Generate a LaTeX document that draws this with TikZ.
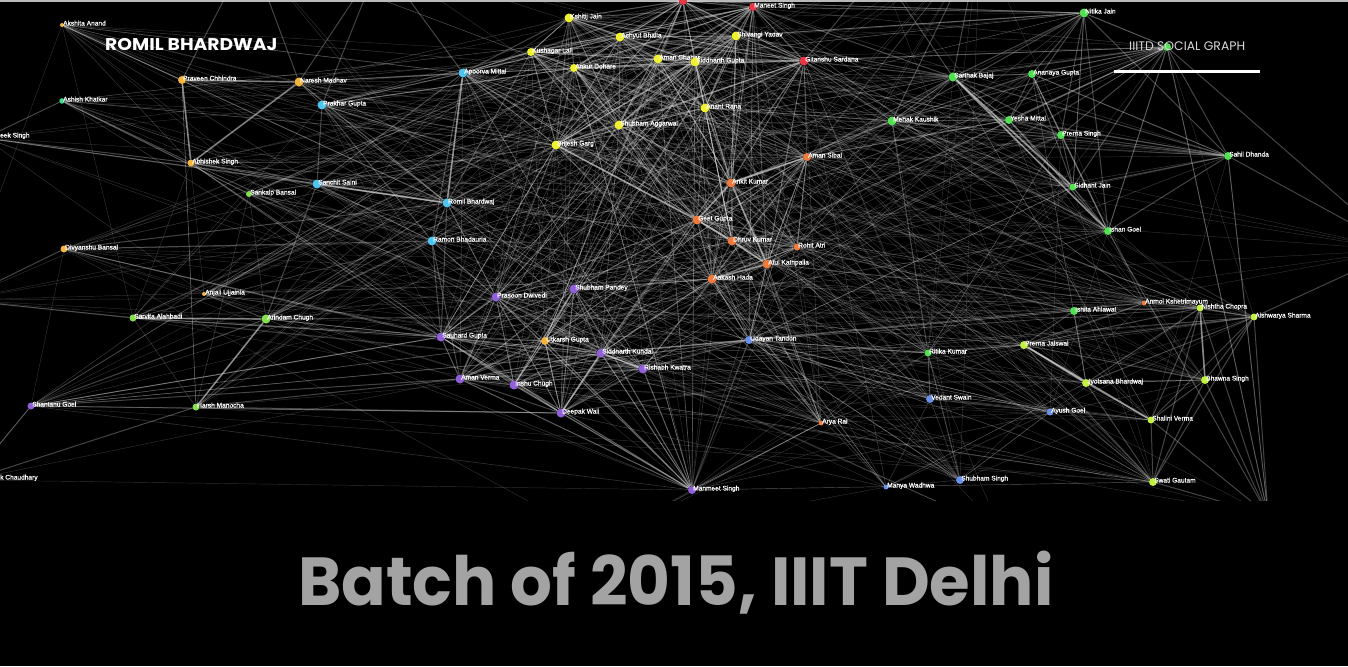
\documentclass[tikz,border=0pt]{standalone}
\usepackage{fontspec}
\setmainfont{Liberation Sans}
\newfontfamily\lblfont{Liberation Sans}[FakeBold=0.6]
\newfontfamily\popfont{Poppins}
\usetikzlibrary{calc}
\pgfdeclarelayer{bg}\pgfdeclarelayer{edges}
\pgfsetlayers{bg,edges,main}
\definecolor{cgold}{HTML}{F4B43C}
\definecolor{ccyan}{HTML}{4EC4EE}
\definecolor{cteal}{HTML}{40D890}
\definecolor{clime}{HTML}{84E04C}
\definecolor{cpurp}{HTML}{9060D8}
\definecolor{cyell}{HTML}{EEF030}
\definecolor{cred}{HTML}{E83848}
\definecolor{corng}{HTML}{F07A3C}
\definecolor{cgreen}{HTML}{52E052}
\definecolor{clime2}{HTML}{C0F040}
\definecolor{cblue}{HTML}{6A90E8}
\definecolor{ctext}{HTML}{A3A3A3}
\definecolor{cedge}{HTML}{D8D8D8}
\tikzset{
 dot/.style={circle, inner sep=0pt, draw=none},
 lbl/.style={anchor=base west, inner sep=0pt, text=white, font=\lblfont\fontsize{6.6}{7}\selectfont},
 faint/.style={draw=cedge, draw opacity=0.22, line width=0.45pt},
 faintb/.style={draw=cedge, draw opacity=0.22, line width=0.65pt},
 mid/.style={draw=cedge, draw opacity=0.32, line width=1pt},
 strong/.style={draw=cedge, draw opacity=0.5, line width=1.7pt},
}
% id, index, x, y, diameter, colour, label
\newcommand\gn[7]{%
 \node[dot, minimum size=#5pt, fill=#6, alias=n#2] (#1) at (#3,#4) {};
 \node[lbl] (#1-l) at (#3+1,#4+0.5) {#7};}
\newcommand\gnx[6]{%
 \node[dot, minimum size=#5pt, fill=#6, alias=n#2] (#1) at (#3,#4) {};}
\newcommand\mkclique[2]{%
 \foreach \a [count=\i] in {#2}{\foreach \b [count=\j] in {#2}{\ifnum\j>\i\relax\draw[#1] (\a) -- (\b);\fi}}}
\begin{document}
\begin{tikzpicture}[x=1pt,y=-1pt]
\useasboundingbox (0,0) rectangle (1348,666);
\begin{pgfonlayer}{bg}
\fill[black] (0,0) rectangle (1348,666);
\fill[gray!55] (0,0) rectangle (1348,1.6);
\end{pgfonlayer}
% ---- nodes
\gn{akshita}{1}{62}{25}{4}{cgold}{Akshita Anand}
\gn{praveen}{2}{182}{80}{8}{cgold}{Praveen Chhindra}
\gn{naresh}{3}{299}{82}{9}{cgold}{Naresh Madhav}
\gn{ashish}{4}{62}{101}{5.5}{cteal}{Ashish Khatkar}
\gn{prakhar}{5}{322}{105}{9}{ccyan}{Prakhar Gupta}
\gn{abhishek}{6}{191}{163}{7}{cgold}{Abhishek Singh}
\gn{sankalp}{7}{249}{194}{6}{clime}{Sankalp Bansal}
\gn{sanchit}{8}{317}{184}{9}{ccyan}{Sanchit Saini}
\gn{romil}{9}{447}{203}{9}{ccyan}{Romil Bhardwaj}
\gn{ramon}{10}{432}{241}{9}{ccyan}{Ramon Bhadauria}
\gn{divyanshu}{11}{64}{249}{7}{cgold}{Divyanshu Bansal}
\gn{anjali}{12}{204}{294}{4}{cgold}{Anjali Ujjainia}
\gn{sarvita}{13}{133}{318}{7}{clime}{Sarvita Alahbadi}
\gn{arindam}{14}{266}{319}{9}{clime}{Arindam Chugh}
\gn{shantanu}{15}{31}{406}{7}{cpurp}{Shantanu Goel}
\gn{harsh}{16}{196}{407}{7}{clime}{Harsh Manocha}
\gn{kshitij}{17}{569}{18}{9}{cyell}{Kshitij Jain}
\gn{achyut}{18}{620}{37}{9}{cyell}{Achyut Bhalla}
\gn{kushagar}{19}{531}{52}{8}{cyell}{Kushagar Lall}
\gn{apoorva}{20}{463}{73}{9}{ccyan}{Apoorva Mittal}
\gn{ankur}{21}{574}{68}{8}{cyell}{Ankur Dohare}
\gn{amanc}{22}{658}{59}{9}{cyell}{Aman Chahar}
\gn{sidg}{23}{695}{62}{9}{cyell}{Siddharth Gupta}
\gn{shivangi}{24}{736}{36}{9}{cyell}{Shivangi Yadav}
\gn{maneet}{25}{753}{7}{8}{cred}{Maneet Singh}
\gnx{topred}{26}{683}{1}{8}{cred}
\gn{gitanshu}{27}{804}{61}{9}{cred}{Gitanshu Sardana}
\gn{anant}{28}{705}{108}{9}{cyell}{Anant Rana}
\gn{shubhama}{29}{619}{125}{9}{cyell}{Shubham Aggarwal}
\gn{brijesh}{30}{556}{145}{9}{cyell}{Brijesh Garg}
\gn{amans}{31}{807}{157}{8}{corng}{Aman Sibal}
\gn{ankit}{32}{731}{183}{9}{corng}{Ankit Kumar}
\gn{geet}{33}{697}{220}{9}{corng}{Geet Gupta}
\gn{dhruv}{34}{732}{241}{9}{corng}{Dhruv Kumar}
\gn{rohit}{35}{797}{247}{7}{corng}{Rohit Atri}
\gn{atul}{36}{767}{264}{9}{corng}{Atul Kathpalia}
\gn{aakash}{37}{712}{279}{9}{corng}{Aakash Hada}
\gn{shubhamp}{38}{574}{289}{9}{cpurp}{Shubham Pandey}
\gn{prasoon}{39}{496}{297}{9}{cpurp}{Prasoon Dwivedi}
\gn{sauhard}{40}{441}{337}{9}{cpurp}{Sauhard Gupta}
\gn{utkarsh}{41}{545}{341}{8}{cgold}{Utkarsh Gupta}
\gn{udayan}{42}{749}{340}{8}{cblue}{Udayan Tandon}
\gn{sidk}{43}{601}{353}{9}{cpurp}{Siddharth Kundal}
\gn{rishabh}{44}{643}{369}{9}{cpurp}{Rishabh Kwatra}
\gn{amanv}{45}{460}{379}{9}{cpurp}{Aman Verma}
\gn{inshu}{46}{514}{385}{9}{cpurp}{Inshu Chugh}
\gn{deepak}{47}{561}{413}{9}{cpurp}{Deepak Wali}
\gn{arya}{48}{821}{423}{5}{corng}{Arya Rai}
\gn{manmeet}{49}{692}{490}{8}{cpurp}{Manmeet Singh}
\gn{nitika}{50}{1084}{13}{9}{cgreen}{Nitika Jain}
\gnx{hiddeng}{51}{1167}{47}{8}{cgreen}
\gn{sarthak}{52}{953}{77}{9}{cgreen}{Sarthak Bajaj}
\gn{ananaya}{53}{1032}{74}{8}{cgreen}{Ananaya Gupta}
\gn{mehak}{54}{892}{121}{9}{cgreen}{Mehak Kaushik}
\gn{yesha}{55}{1009}{120}{8}{cgreen}{Yesha Mittal}
\gn{prernas}{56}{1061}{135}{8}{cgreen}{Prerna Singh}
\gn{sahil}{57}{1228}{156}{8}{cgreen}{Sahil Dhanda}
\gn{sidhant}{58}{1073}{187}{7}{cgreen}{Sidhant Jain}
\gn{ishan}{59}{1108}{231}{8}{cgreen}{Ishan Goel}
\gn{anmol}{60}{1144}{303}{5}{corng}{Anmol Kshetrimayum}
\gn{ishita}{61}{1074}{311}{8}{cgreen}{Ishita Ahlawat}
\gn{nishtha}{62}{1200}{308}{7}{clime2}{Nishtha Chopra}
\gn{aishwarya}{63}{1254}{317}{7}{clime2}{Aishwarya Sharma}
\gn{ritika}{64}{928}{353}{7}{cgreen}{Ritika Kumar}
\gn{prernaj}{65}{1024}{345}{8}{clime2}{Prerna Jaiswal}
\gn{jyotsana}{66}{1086}{383}{8}{clime2}{Jyotsana Bhardwaj}
\gn{bhawna}{67}{1205}{380}{8}{clime2}{Bhawna Singh}
\gn{vedant}{68}{930}{399}{8}{cblue}{Vedant Swain}
\gn{ayush}{69}{1050}{412}{7}{cblue}{Ayush Goel}
\gn{shalini}{70}{1151}{420}{7}{clime2}{Shalini Verma}
\gn{swati}{71}{1153}{482}{8}{clime2}{Swati Gautam}
\gn{shubhams}{72}{960}{480}{8}{cblue}{Shubham Singh}
\gn{manya}{73}{886}{487}{5}{cblue}{Manya Wadhwa}
% off-view ends
\coordinate[alias=n74] (offprateek) at (-15,138);
\coordinate[alias=n75] (offchaud) at (-30,480);
\coordinate[alias=n76] (offa) at (380,-40);
\coordinate[alias=n77] (offb) at (880,-30);
\coordinate[alias=n78] (offc) at (980,-60);
\coordinate[alias=n79] (offd) at (250,-50);
\coordinate[alias=n80] (offe) at (1268,515);
\coordinate[alias=n81] (offf) at (600,540);
\coordinate[alias=n82] (offg) at (1000,530);
\coordinate[alias=n83] (offh) at (-40,300);
\coordinate[alias=n84] (offi) at (1400,250);
\node[lbl, anchor=base west] (prateek-l) at (0,137.5) {eek Singh};
\node[lbl, anchor=base west] (chaud-l) at (0,479.5) {k Chaudhary};
% ---- edges
\begin{pgfonlayer}{edges}
\clip (0,0) rectangle (1348,500);
\pgfmathsetseed{2015}
\foreach \k in {1,...,520}{%
 \pgfmathrandominteger{\ra}{1}{84}%
 \pgfmathrandominteger{\rb}{1}{73}%
 \ifnum\ra=\rb\relax\else\draw[faint] (n\ra) -- (n\rb);\fi}
\foreach \k in {1,...,300}{%
 \pgfmathrandominteger{\ra}{17}{49}%
 \pgfmathrandominteger{\rb}{1}{73}%
 \ifnum\ra=\rb\relax\else\draw[faintb] (n\ra) -- (n\rb);\fi}
\foreach \k in {1,...,120}{%
 \pgfmathrandominteger{\ra}{17}{49}%
 \pgfmathrandominteger{\rb}{17}{49}%
 \ifnum\ra=\rb\relax\else\draw[faintb] (n\ra) -- (n\rb);\fi}
\mkclique{mid}{kshitij,achyut,kushagar,ankur,amanc,sidg,shivangi,anant,shubhama,brijesh,maneet,topred,gitanshu}
\mkclique{mid}{amans,ankit,geet,dhruv,rohit,atul,aakash}
\mkclique{mid}{shubhamp,prasoon,sauhard,sidk,rishabh,amanv,inshu,deepak,manmeet,utkarsh}
\mkclique{mid}{nitika,hiddeng,sarthak,ananaya,mehak,yesha,prernas,sahil,sidhant,ishan}
\mkclique{mid}{prernaj,jyotsana,nishtha,aishwarya,bhawna,shalini,swati}
\mkclique{mid}{prakhar,sanchit,romil,ramon,apoorva}
\mkclique{faintb}{akshita,praveen,naresh,abhishek}
\mkclique{faintb}{udayan,vedant,ayush,shubhams,manya}
\mkclique{faintb}{sankalp,sarvita,arindam,harsh}
\foreach \a/\b in {ankit/anant,ankit/shubhama,ankit/sidg,ankit/amanc,ankit/brijesh,ankit/shivangi,ankit/gitanshu,ankit/maneet,
 geet/brijesh,geet/shubhama,geet/anant,geet/kushagar,dhruv/anant,dhruv/sidg,atul/gitanshu,atul/maneet,
 aakash/shubhamp,aakash/sidk,aakash/rishabh,geet/sidk,geet/shubhamp,geet/prasoon,
 romil/prasoon,romil/sauhard,romil/shubhamp,ramon/sauhard,ramon/amanv,ramon/prasoon,
 apoorva/kushagar,apoorva/kshitij,apoorva/brijesh,apoorva/achyut,romil/brijesh,romil/kushagar,
 prakhar/brijesh,prakhar/kushagar,prakhar/ankur,sanchit/brijesh,
 mehak/gitanshu,mehak/ankit,mehak/amans,mehak/anant,sarthak/gitanshu,sarthak/shivangi,sarthak/maneet,
 nitika/maneet,nitika/shivangi,nitika/topred,amans/sarthak,amans/yesha,rohit/ishita,
 udayan/atul,udayan/rishabh,udayan/aakash,udayan/sidk,udayan/ritika,udayan/vedant,
 manmeet/udayan,ishita/prernaj,ishita/jyotsana,ishita/nishtha,ritika/prernaj,ritika/vedant,
 ritika/shubhams,ritika/mehak,anmol/nishtha,anmol/prernaj,anmol/atul,
 shantanu/sauhard,shantanu/amanv,shantanu/arindam,shantanu/deepak,divyanshu/romil,divyanshu/sauhard,
 divyanshu/ramon,ashish/abhishek,ashish/sankalp,akshita/romil,abhishek/sanchit,abhishek/sauhard,
 sankalp/sanchit,sankalp/prasoon,harsh/amanv,harsh/deepak,arindam/sanchit,arindam/sauhard,
 arindam/ramon,arindam/romil,sarvita/sauhard,anjali/arindam,naresh/romil,naresh/prakhar,naresh/apoorva,
 offe/aishwarya,offe/nishtha,offe/bhawna,offe/sahil,offe/swati,offe/ishan,offe/hiddeng,offe/shalini,
 offi/sahil,offi/aishwarya,offi/hiddeng,offa/prakhar,offa/apoorva,offa/naresh,offb/gitanshu,offb/sarthak,
 offc/sarthak,offc/mehak,offd/naresh,offd/praveen,offprateek/abhishek,offprateek/ashish,offprateek/romil,
 offchaud/shantanu,offchaud/harsh,offh/sarvita,offh/divyanshu}
 {\draw[mid] (\a) -- (\b);}
\foreach \a/\b in {sanchit/romil,praveen/abhishek,sarvita/arindam,arindam/harsh,sarthak/ishan,sarthak/sidhant,
 prernaj/shalini,apoorva/romil,brijesh/geet,ankit/geet,geet/dhruv,dhruv/atul,ankit/atul,aakash/atul,
 ankit/amans,praveen/naresh,naresh/abhishek,prernaj/jyotsana,nishtha/bhawna,sidk/deepak,sidk/rishabh}
 {\draw[strong] (\a) -- (\b);}
\end{pgfonlayer}
% ---- titles
\node[anchor=base west, inner sep=0pt, text=white, xscale=1.1, font=\popfont\bfseries\fontsize{17}{17}\selectfont] (title) at (105,51) {ROMIL BHARDWAJ};
\node[anchor=base west, inner sep=0pt, text=white!85!black, font=\popfont\fontsize{12.4}{13}\selectfont] (sgraph) at (1129,50.7) {IIITD SOCIAL GRAPH};
\node[fill=white, inner sep=0pt, minimum width=146pt, minimum height=3pt] (bar) at (1187,72) {};
\node[anchor=base west, inner sep=0pt, text=ctext, xscale=0.967, font=\popfont\bfseries\fontsize{68}{68}\selectfont] (batch) at (298,605) {Batch of 2015, IIIT Delhi};
\end{tikzpicture}
\end{document}
